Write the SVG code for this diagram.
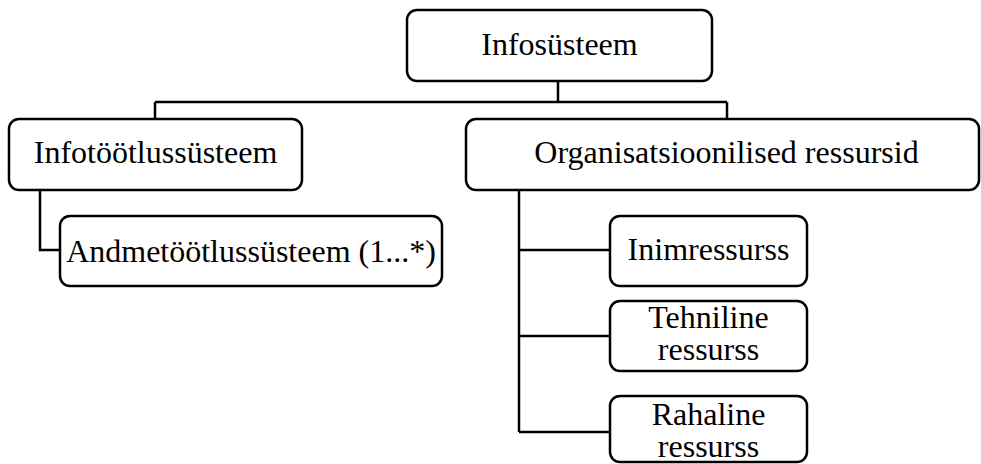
<svg xmlns="http://www.w3.org/2000/svg" width="981" height="464" viewBox="0 0 981 464">
  <style>
    .box { fill: #fff; stroke: #000; stroke-width: 2.5; }
    .lbl { font-family: "Liberation Serif", "Times New Roman", serif; font-size: 32px; fill: #000; text-anchor: middle; }
    .link { fill: none; stroke: #000; stroke-width: 2.5; }
  </style>
  <rect width="981" height="464" fill="#fff"/>
  <g id="connectors">
    <path class="link" d="M558 81 V102 M155 102 H727 M155 102 V119 M727 102 V119"/>
    <path class="link" d="M40 190 V250 H60"/>
    <path class="link" d="M519 190 V432 M519 250 H610 M519 336 H610 M519 432 H610"/>
  </g>
  <g id="infosusteem">
    <rect class="box" x="407" y="10" width="305" height="71" rx="10"/>
    <text class="lbl" x="559.5" y="55">Infosüsteem</text>
  </g>
  <g id="infotootlussusteem">
    <rect class="box" x="9" y="119" width="293" height="71" rx="10"/>
    <text class="lbl" x="155.5" y="163">Infotöötlussüsteem</text>
  </g>
  <g id="andmetootlussusteem">
    <rect class="box" x="60" y="216" width="382" height="70" rx="10"/>
    <text class="lbl" x="251" y="262">Andmetöötlussüsteem (1...*)</text>
  </g>
  <g id="organisatsioonilised">
    <rect class="box" x="466" y="119" width="513" height="71" rx="10"/>
    <text class="lbl" x="726.5" y="163">Organisatsioonilised ressursid</text>
  </g>
  <g id="inimressurss">
    <rect class="box" x="610" y="216" width="197" height="70" rx="10"/>
    <text class="lbl" x="708.5" y="260">Inimressurss</text>
  </g>
  <g id="tehniline">
    <rect class="box" x="610" y="301" width="197" height="70" rx="10"/>
    <text class="lbl" x="708.5" y="328">Tehniline</text>
    <text class="lbl" x="708.5" y="360">ressurss</text>
  </g>
  <g id="rahaline">
    <rect class="box" x="610" y="396" width="197" height="66" rx="10"/>
    <text class="lbl" x="708.5" y="425">Rahaline</text>
    <text class="lbl" x="708.5" y="457">ressurss</text>
  </g>
</svg>
